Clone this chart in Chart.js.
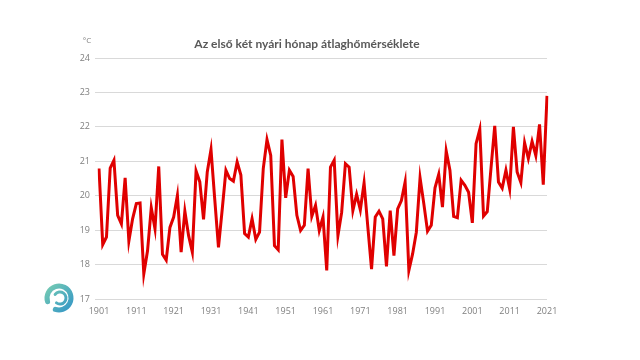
<!DOCTYPE html>
<html>
<head>
<meta charset="utf-8">
<script src="https://cdn.jsdelivr.net/npm/chart.js@4"></script>
<style>
  html, body { margin: 0; padding: 0; background: #fff; }
  #wrap { width: 640px; height: 360px; }
</style>
</head>
<body>
<div id="wrap"><canvas id="tempChart" width="640" height="360"></canvas></div>
<script>
// Az első két nyári hónap átlaghőmérséklete (°C), 1901-2021
const firstYear = 1901;
const temps = [
    20.79, 18.58, 18.80, 20.80, 21.03, 19.43, 19.18, 20.52, 18.68, 19.33,
    19.77, 19.79, 17.73, 18.40, 19.65, 19.04, 20.85, 18.30, 18.13, 19.08,
    19.38, 20.01, 18.36, 19.55, 18.84, 18.36, 20.72, 20.40, 19.31, 20.69,
    21.34, 19.90, 18.50, 19.60, 20.74, 20.50, 20.42, 20.98, 20.60, 18.90,
    18.80, 19.33, 18.73, 18.94, 20.79, 21.63, 21.17, 18.55, 18.43, 21.63,
    19.94, 20.74, 20.56, 19.43, 18.99, 19.14, 20.79, 19.40, 19.72, 18.99,
    19.38, 17.83, 20.83, 21.03, 18.84, 19.52, 20.93, 20.83, 19.57, 20.04,
    19.59, 20.37, 19.10, 17.87, 19.38, 19.55, 19.33, 17.95, 19.57, 18.26,
    19.62, 19.86, 20.40, 17.83, 18.31, 18.94, 20.52, 19.77, 18.97, 19.14,
    20.23, 20.62, 19.67, 21.30, 20.74, 19.40, 19.36, 20.45, 20.30, 20.10,
    19.21, 21.51, 21.93, 19.41, 19.54, 20.80, 22.03, 20.40, 20.22, 20.74,
    20.20, 22.00, 20.69, 20.38, 21.54, 21.08, 21.58, 21.17, 22.07, 20.32,
    22.90
];
const yTicks = [17, 18, 19, 20, 21, 22, 23, 24];
const labelEvery = 10;
const titleText = 'Az első két nyári hónap átlaghőmérséklete';
const unitText = '°C';

const years = temps.map((t, i) => String(firstYear + i));

// cím, mértékegység és a kis logó rajzolása
const decorPlugin = {
    id: 'decor',
    afterDraw(chart) {
        const ctx = chart.ctx;
        ctx.save();
        ctx.fillStyle = '#595959';
        ctx.font = 'bold 12px Lato, "Open Sans", sans-serif';
        ctx.textAlign = 'center';
        ctx.textBaseline = 'middle';
        ctx.fillText(titleText, 307, 44);

        ctx.fillStyle = '#7f7f7f';
        ctx.font = '8px "Open Sans", sans-serif';
        ctx.fillText(unitText, 87, 41);

        // spirál logó
        const cx = 59, cy = 298;
        const grad = ctx.createLinearGradient(cx - 16, cy - 16, cx + 16, cy + 16);
        grad.addColorStop(0, '#7fd3b0');
        grad.addColorStop(1, '#2b8fc9');
        ctx.strokeStyle = grad;
        ctx.lineCap = 'round';
        ctx.lineWidth = 5;
        ctx.beginPath();
        ctx.arc(cx, cy, 12, Math.PI * 0.9, Math.PI * 2.6);
        ctx.stroke();
        ctx.lineWidth = 3;
        ctx.beginPath();
        ctx.arc(cx + 1, cy, 6, Math.PI * 1.2, Math.PI * 2.7);
        ctx.stroke();
        ctx.restore();
    }
};

const ctx = document.getElementById('tempChart').getContext('2d');
new Chart(ctx, {
    type: 'line',
    data: {
        labels: years,
        datasets: [{
            data: temps,
            borderColor: '#e00000',
            borderWidth: 3,
            pointRadius: 0,
            tension: 0,
            fill: false
        }]
    },
    options: {
        responsive: false,
        animation: false,
        layout: { padding: { left: 0, right: 93, top: 58, bottom: 0 } },
        plugins: {
            legend: { display: false },
            title: { display: false },
            tooltip: { enabled: false }
        },
        scales: {
            x: {
                offset: false,
                grid: { display: false, drawTicks: false },
                border: { display: false },
                ticks: {
                    autoSkip: false,
                    maxRotation: 0,
                    minRotation: 0,
                    padding: 7,
                    color: '#7f7f7f',
                    font: { size: 9, family: '"Open Sans", sans-serif' },
                    callback: function(value, index) {
                        return index % labelEvery === 0 ? years[index] : '';
                    }
                },
                afterFit: function(scale) { scale.height = 61; }
            },
            y: {
                min: yTicks[0],
                max: yTicks[yTicks.length - 1],
                afterBuildTicks: function(scale) {
                    scale.ticks = yTicks.map(v => ({ value: v }));
                },
                grid: { color: '#d9d9d9', lineWidth: 1, tickLength: 4 },
                border: { display: false },
                ticks: {
                    padding: 5,
                    color: '#7f7f7f',
                    font: { size: 9, family: '"Open Sans", sans-serif' }
                },
                afterFit: function(scale) { scale.width = 99; }
            }
        }
    },
    plugins: [decorPlugin]
});
</script>
</body>
</html>
